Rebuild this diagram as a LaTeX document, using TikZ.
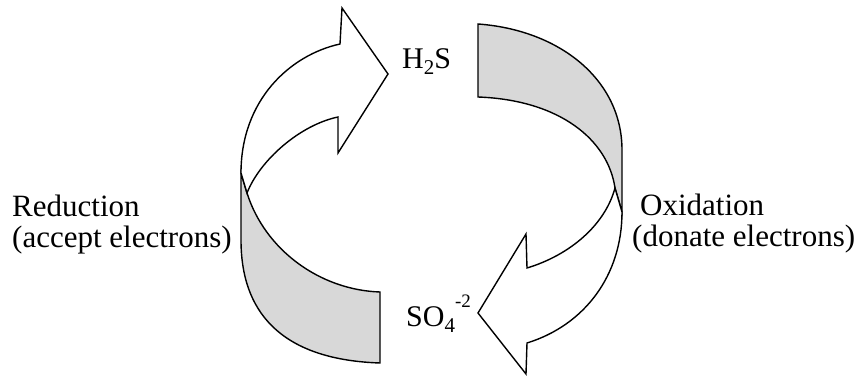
\documentclass[tikz,border=0pt]{standalone}
\usepackage{fontspec}
\setmainfont{Liberation Serif}
\definecolor{bandgray}{RGB}{216,216,216}
\tikzset{
  band/.style={draw=black, line width=1.4pt, line join=miter, fill=bandgray},
  whitearrow/.style={draw=black, line width=1.4pt, line join=miter, fill=white},
  label/.style={inner sep=0pt, anchor=base west, font=\fontsize{31}{37}\selectfont},
  chem/.style={inner sep=0pt, anchor=base west, font=\fontsize{30}{36}\selectfont}
}
\begin{document}
\begin{tikzpicture}[x=1pt,y=-1pt]
\useasboundingbox (0,0) rectangle (863,379);
% left ribbon: gray back part
\path[band] (241,173) -- (241,240) .. controls (241,320) and (290,360) .. (380,363)
  -- (380,292) .. controls (320,290) and (265,250) .. (247,193) -- cycle;
% left ribbon: white arrow
\path[whitearrow] (241,173) .. controls (241,100) and (290,55) .. (340,44)
  -- (342,8) -- (388,74) -- (338,153) -- (338,117)
  .. controls (300,125) and (260,160) .. (247,193) -- cycle;
% right ribbon: gray back part
\path[band] (478,24) .. controls (560,30) and (622,80) .. (622,150)
  -- (622,212) -- (615,188) .. controls (608,140) and (560,100) .. (478,97) -- cycle;
% right ribbon: white arrow
\path[whitearrow] (615,188) -- (622,212) .. controls (622,275) and (585,325) .. (527,343)
  -- (526,374) -- (478,313) -- (526,234) -- (527,268)
  .. controls (570,255) and (605,225) .. (615,188) -- cycle;
% labels
\node[chem] (h2s) at (402,69) {H\raisebox{-6pt}{\fontsize{21}{21}\selectfont 2}S};
\node[chem] (so4) at (406,327) {SO\raisebox{-6pt}{\fontsize{21}{21}\selectfont 4}\raisebox{19pt}{\fontsize{19}{19}\selectfont -2}};
\node[label] (red1) at (12,217) {Reduction};
\node[label] (red2) at (12,248) {(accept electrons)};
\node[label] (ox1) at (640,216) {Oxidation};
\node[label] (ox2) at (632,247) {(donate electrons)};
\end{tikzpicture}
\end{document}
